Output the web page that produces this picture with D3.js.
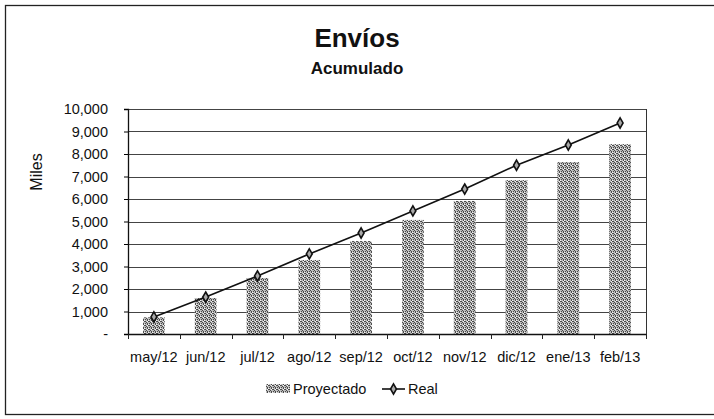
<!DOCTYPE html>
<html>
<head>
<meta charset="utf-8">
<script src="https://cdn.jsdelivr.net/npm/d3@7"></script>
<style>
  body { margin: 0; background: #fff; }
  text { font-family: "Liberation Sans", Arial, sans-serif; fill: #111; }
</style>
</head>
<body>
<div id="chart"></div>
<script>
// data
var months = ['may/12', 'jun/12', 'jul/12', 'ago/12', 'sep/12', 'oct/12', 'nov/12', 'dic/12', 'ene/13', 'feb/13'];
var proyectado = [740, 1600, 2490, 3290, 4130, 5070, 5910, 6840, 7640, 8440];
var real = [760, 1640, 2580, 3560, 4490, 5470, 6440, 7500, 8400, 9380];
var yTicks = [0, 1000, 2000, 3000, 4000, 5000, 6000, 7000, 8000, 9000, 10000];

var width = 714, height = 419;
var margin = { top: 109, left: 128, right: 68, bottom: 85 };
var plotW = width - margin.left - margin.right;
var plotH = height - margin.top - margin.bottom;

var svg = d3.select('#chart').append('svg')
  .attr('width', width)
  .attr('height', height);

// outer frame
svg.append('rect')
  .attr('x', 5.5).attr('y', 5.5)
  .attr('width', 710).attr('height', 409)
  .attr('fill', 'none')
  .attr('stroke', '#222')
  .attr('stroke-width', 1.3);

// dither-like texture for the bars
var defs = svg.append('defs');
var pat = defs.append('pattern')
  .attr('id', 'dots')
  .attr('width', 4).attr('height', 4)
  .attr('patternUnits', 'userSpaceOnUse');
pat.append('rect').attr('width', 4).attr('height', 4).attr('fill', '#bdbdbd');
[[0, 0], [2, 1], [1, 2], [3, 3], [1, 0], [3, 2], [3, 0], [0, 3]].forEach(function(p, i) {
  pat.append('rect')
    .attr('x', p[0]).attr('y', p[1])
    .attr('width', 1).attr('height', 1)
    .attr('fill', i < 6 ? '#4a4a4a' : '#f2f2f2');
});

// titles
svg.append('text')
  .attr('x', 357).attr('y', 47)
  .attr('text-anchor', 'middle')
  .attr('font-size', 26).attr('font-weight', 'bold')
  .text('Envíos');
svg.append('text')
  .attr('x', 357).attr('y', 74)
  .attr('text-anchor', 'middle')
  .attr('font-size', 17).attr('font-weight', 'bold')
  .text('Acumulado');

var g = svg.append('g')
  .attr('transform', 'translate(' + margin.left + ',' + margin.top + ')');

var x = d3.scaleBand()
  .domain(months)
  .range([0, plotW])
  .paddingInner(0.58)
  .paddingOuter(0.29);

var y = d3.scaleLinear()
  .domain([0, 10000])
  .range([plotH, 0]);

// gridlines
g.append('g')
  .selectAll('line')
  .data(yTicks.slice(1))
  .enter().append('line')
  .attr('x1', 0).attr('x2', plotW)
  .attr('y1', function(d) { return Math.round(y(d)) + 0.5; })
  .attr('y2', function(d) { return Math.round(y(d)) + 0.5; })
  .attr('stroke', '#444')
  .attr('stroke-width', 1.1);

// plot frame right side
g.append('line')
  .attr('x1', plotW + 0.5).attr('x2', plotW + 0.5)
  .attr('y1', 0).attr('y2', plotH)
  .attr('stroke', '#333');

// bars
g.append('g')
  .selectAll('rect')
  .data(proyectado)
  .enter().append('rect')
  .attr('x', function(d, i) { return x(months[i]); })
  .attr('y', function(d) { return y(d); })
  .attr('width', x.bandwidth())
  .attr('height', function(d) { return plotH - y(d); })
  .attr('fill', 'url(#dots)');

// y axis
var yAxis = d3.axisLeft(y)
  .tickValues(yTicks)
  .tickSize(4)
  .tickPadding(16)
  .tickFormat(function(d) { return d === 0 ? '-' : d3.format(',')(d); });
var ya = g.append('g').call(yAxis);
ya.select('.domain').attr('stroke', '#111').attr('stroke-width', 1.3);
ya.selectAll('text')
  .attr('font-size', 14.5)
  .attr('font-family', '"Liberation Sans", Arial, sans-serif');

// x axis with ticks at band edges
var xa = g.append('g')
  .attr('transform', 'translate(0,' + plotH + ')');
xa.append('line')
  .attr('x1', 0).attr('x2', plotW)
  .attr('y1', 0.5).attr('y2', 0.5)
  .attr('stroke', '#111').attr('stroke-width', 1.3);
var step = x.step();
xa.selectAll('.tk')
  .data(d3.range(months.length + 1))
  .enter().append('line')
  .attr('class', 'tk')
  .attr('x1', function(d) { return Math.round(d * step) + 0.5; })
  .attr('x2', function(d) { return Math.round(d * step) + 0.5; })
  .attr('y1', 0).attr('y2', 5)
  .attr('stroke', '#222');
xa.selectAll('.lb')
  .data(months)
  .enter().append('text')
  .attr('class', 'lb')
  .attr('x', function(d) { return x(d) + x.bandwidth() / 2; })
  .attr('y', 28)
  .attr('text-anchor', 'middle')
  .attr('font-size', 14.5)
  .text(function(d) { return d; });

// real line
var line = d3.line()
  .x(function(d, i) { return x(months[i]) + x.bandwidth() / 2; })
  .y(function(d) { return y(d); });
g.append('path')
  .datum(real)
  .attr('d', line)
  .attr('fill', 'none')
  .attr('stroke', '#111')
  .attr('stroke-width', 1.6);

var diamond = d3.symbol().type(d3.symbolDiamond).size(30);
g.append('g')
  .selectAll('path')
  .data(real)
  .enter().append('path')
  .attr('d', diamond)
  .attr('transform', function(d, i) {
    return 'translate(' + (x(months[i]) + x.bandwidth() / 2) + ',' + y(d) + ')';
  })
  .attr('fill', '#aaa')
  .attr('stroke', '#111')
  .attr('stroke-width', 1.6);

// y title
svg.append('text')
  .attr('transform', 'translate(42,172) rotate(-90)')
  .attr('text-anchor', 'middle')
  .attr('font-size', 16)
  .text('Miles');

// legend
var lg = svg.append('g').attr('transform', 'translate(0,389)');
lg.append('rect')
  .attr('x', 266).attr('y', -5)
  .attr('width', 24).attr('height', 9)
  .attr('fill', 'url(#dots)');
lg.append('text')
  .attr('x', 293).attr('y', 5)
  .attr('font-size', 14.5)
  .text('Proyectado');
lg.append('line')
  .attr('x1', 382).attr('x2', 405)
  .attr('y1', 0).attr('y2', 0)
  .attr('stroke', '#111').attr('stroke-width', 1.6);
lg.append('path')
  .attr('d', diamond)
  .attr('transform', 'translate(393.5,0)')
  .attr('fill', '#aaa')
  .attr('stroke', '#111')
  .attr('stroke-width', 1.6);
lg.append('text')
  .attr('x', 408).attr('y', 5)
  .attr('font-size', 14.5)
  .text('Real');
</script>
</body>
</html>
